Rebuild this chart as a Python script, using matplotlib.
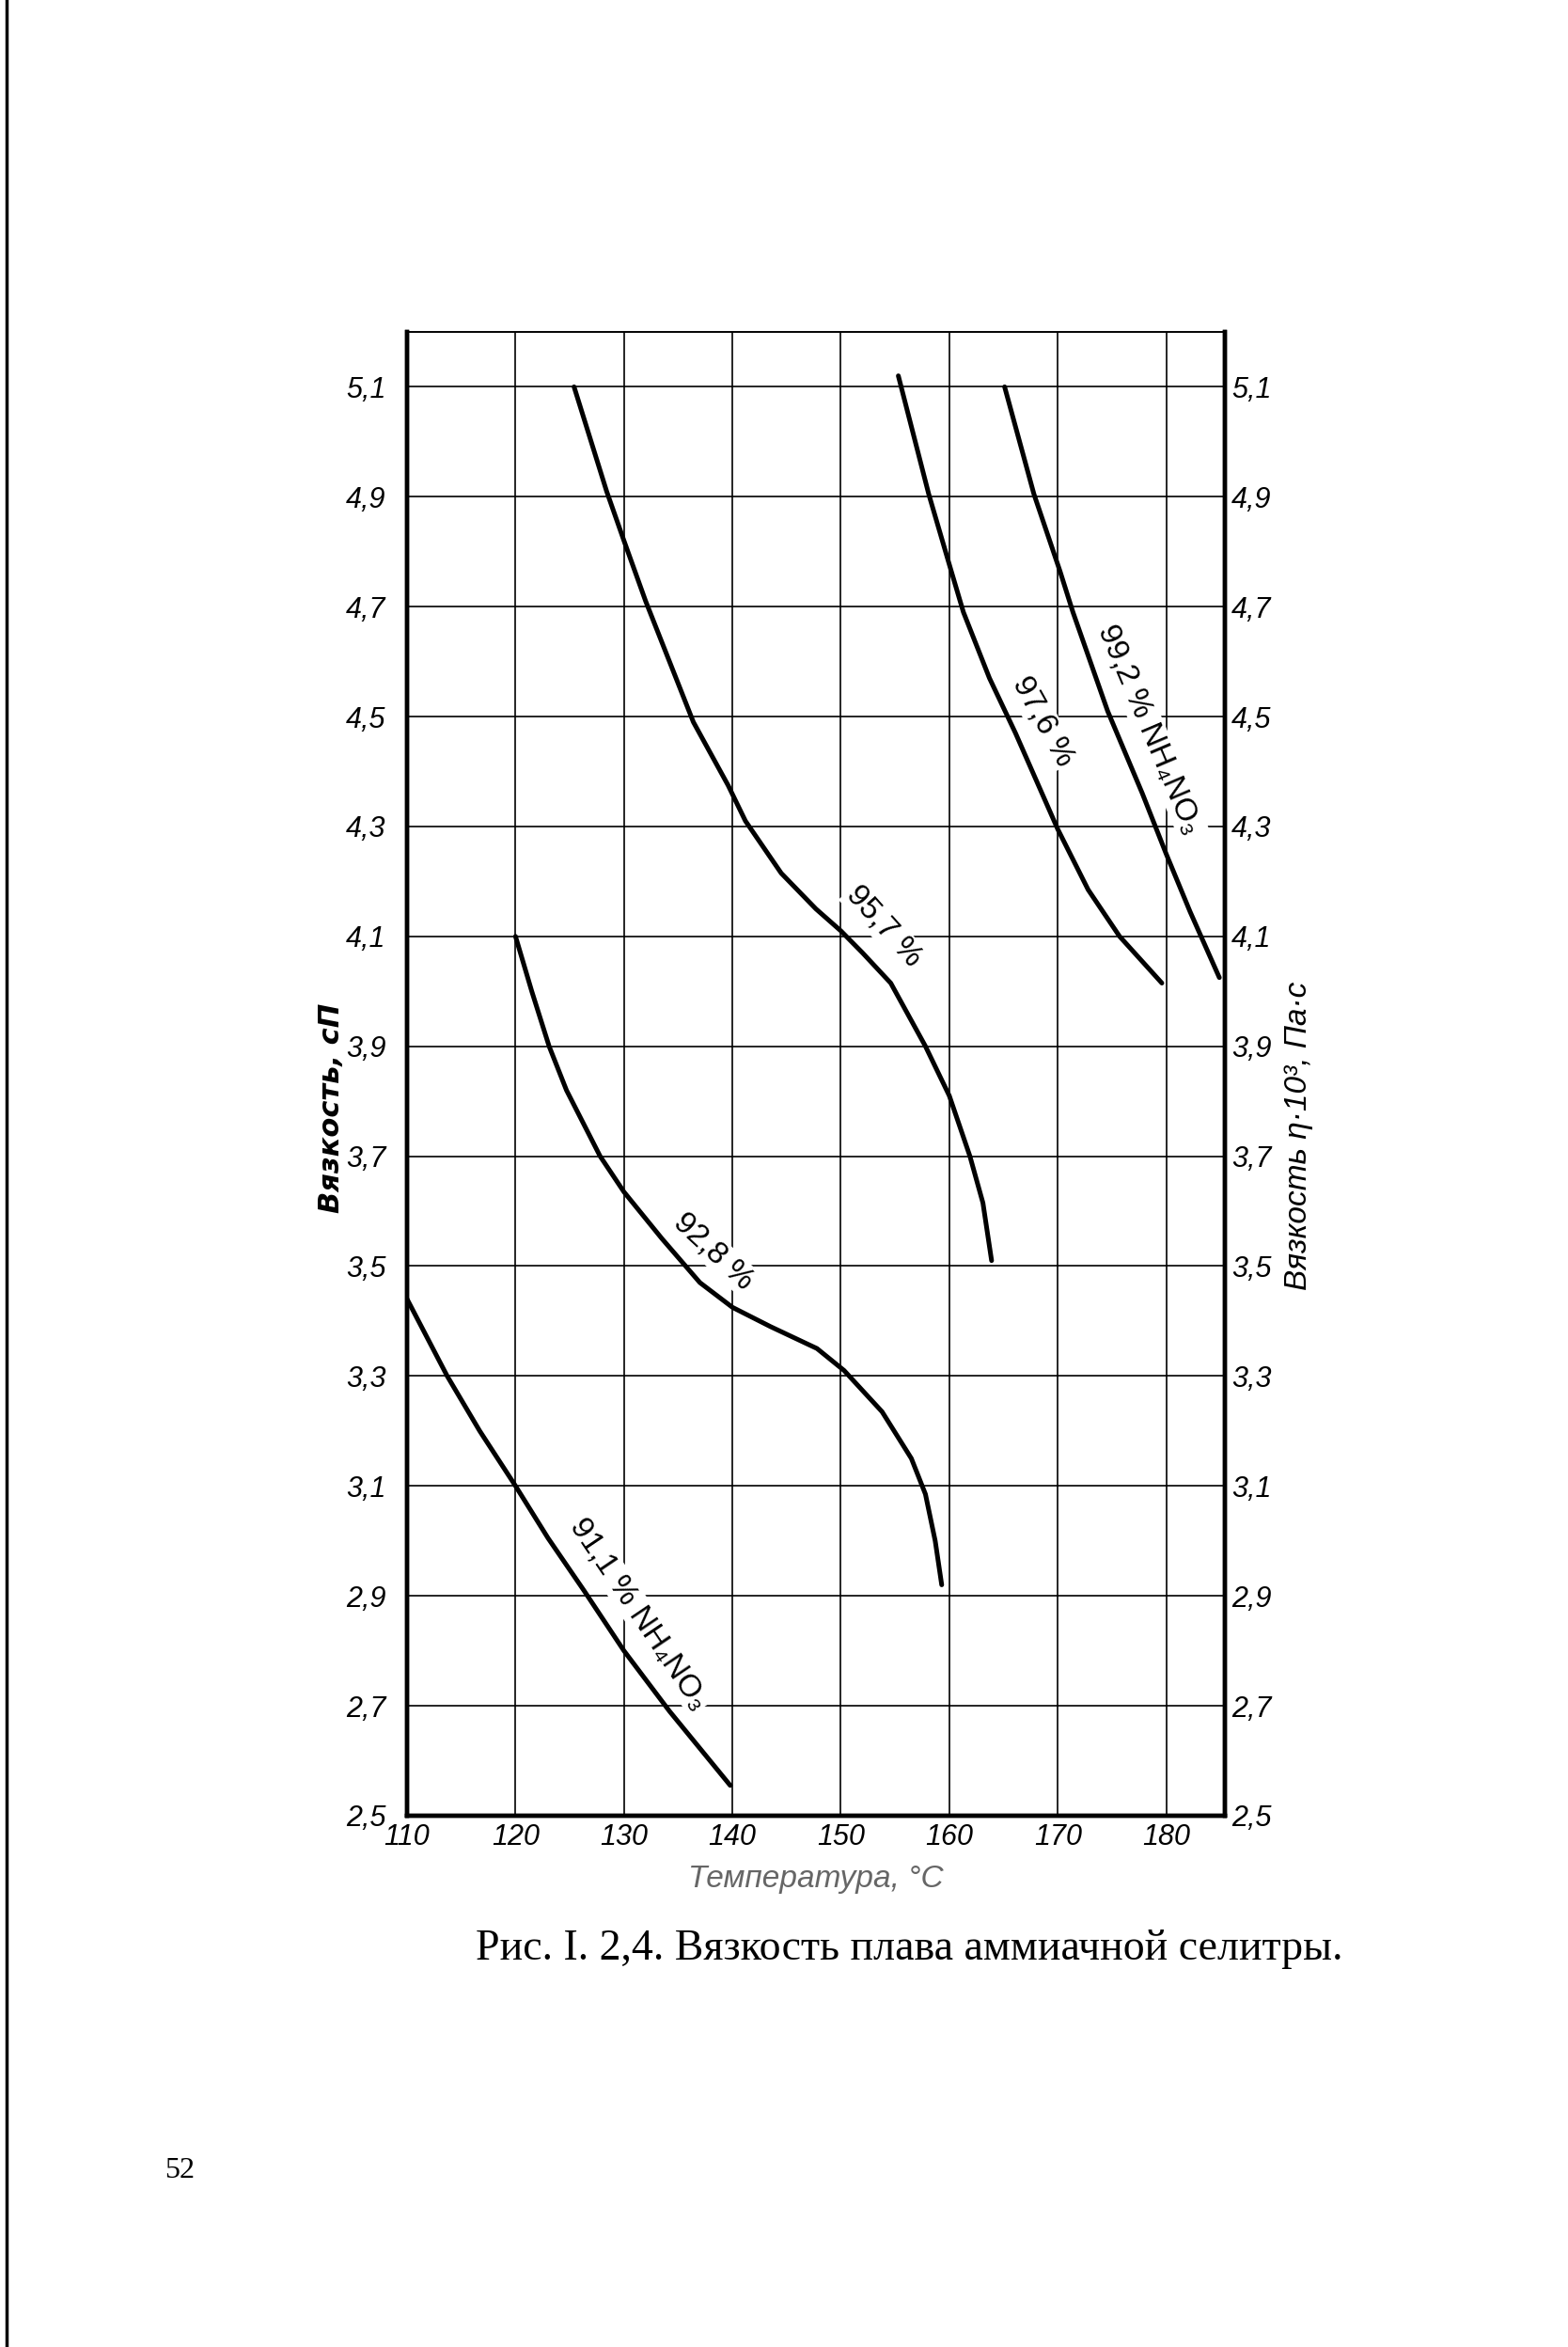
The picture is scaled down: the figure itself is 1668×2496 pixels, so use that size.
import math
import matplotlib
matplotlib.use("Agg")
import matplotlib.pyplot as plt
from matplotlib.lines import Line2D
from matplotlib.transforms import ScaledTranslation

# viscosity of ammonium nitrate melt
t_911 = [110, 113.7, 116.7, 120, 123, 126.3, 130, 134.2, 139.8]
v_911 = [3.44, 3.30, 3.20, 3.10, 3.005, 2.91, 2.80, 2.69, 2.555]

t_928 = [120, 121.5, 123.1, 124.7, 127.8, 130, 133.5, 137, 140, 143.5,
         147.8, 150.3, 153.8, 156.5, 157.8, 158.7, 159.3]
v_928 = [4.10, 4.00, 3.90, 3.82, 3.70, 3.635, 3.55, 3.47, 3.425, 3.39,
         3.35, 3.31, 3.235, 3.15, 3.085, 3.00, 2.92]

t_957 = [125.4, 128.4, 130, 132, 134, 136.4, 139.6, 141.2, 144.5, 147.7,
         150, 152, 154.6, 157.8, 160, 161.9, 163.1, 163.9]
v_957 = [5.10, 4.91, 4.82, 4.71, 4.61, 4.49, 4.375, 4.31, 4.215, 4.15,
         4.11, 4.07, 4.015, 3.90, 3.81, 3.70, 3.615, 3.51]

t_976 = [155.3, 158.1, 160.1, 161.3, 163.7, 166.1, 170, 172.8, 175.7, 179.6]
v_976 = [5.12, 4.905, 4.77, 4.69, 4.57, 4.47, 4.295, 4.185, 4.10, 4.015]

t_992 = [165.1, 167.8, 170.2, 171.4, 174.6, 177.8, 180, 182.2, 184.9]
v_992 = [5.10, 4.905, 4.765, 4.69, 4.51, 4.36, 4.25, 4.145, 4.025]

curve_labels = ["91,1 % NH₄NO₃", "92,8 %", "95,7 %", "97,6 %", "99,2 % NH₄NO₃"]

x_ticks = [110, 120, 130, 140, 150, 160, 170, 180]
y_ticks = [2.5, 2.7, 2.9, 3.1, 3.3, 3.5, 3.7, 3.9, 4.1, 4.3, 4.5, 4.7, 4.9, 5.1]

sans = ["Liberation Sans", "DejaVu Sans"]

fig = plt.figure(figsize=(16.68, 24.96), dpi=100)
ax = fig.add_axes([0.2596, 0.2264, 0.5215, 0.6322])

curves = [(t_911, v_911), (t_928, v_928), (t_957, v_957), (t_976, v_976), (t_992, v_992)]
for t, v in curves:
    ax.plot(t, v, color="black", lw=3.6, solid_capstyle="round", zorder=3)

ax.set_xlim(110, 185.4)
ax.set_ylim(2.5, 5.2)
ax.set_xticks(x_ticks)
ax.set_yticks(y_ticks)
ax.grid(True, color="black", lw=1.2)
ax.tick_params(length=0)
ax.set_xticklabels([str(x) for x in x_ticks], fontstyle="italic", fontsize=22, family=sans)
ax.set_yticklabels([f"{y:.1f}".replace(".", ",") for y in y_ticks],
                   fontstyle="italic", fontsize=22, family=sans)
ax.tick_params(axis="y", pad=16)
ax.tick_params(axis="x", pad=6)

ax2 = ax.twinx()
ax2.set_ylim(ax.get_ylim())
ax2.set_yticks(y_ticks)
ax2.set_yticklabels([f"{y:.1f}".replace(".", ",") for y in y_ticks],
                    fontstyle="italic", fontsize=22, family=sans)
ax2.tick_params(length=0, pad=5)

for a in (ax, ax2):
    for side in ("left", "right", "bottom"):
        a.spines[side].set_linewidth(3.2)
    a.spines["top"].set_linewidth(1.2)

# curve labels: point on the curve, text angle, shift away from the curve (pt)
label_pos = [(129.0, 2.835, -56, 24), (136.3, 3.485, -43, 24), (151.8, 4.08, -48, 24),
             (166.2, 4.465, -61, 23), (175.8, 4.455, -67, 24)]
for txt, (x, y, rot, d) in zip(curve_labels, label_pos):
    a_rad = math.radians(rot)
    shift = ScaledTranslation(-d * math.sin(a_rad) / 72, d * math.cos(a_rad) / 72,
                              fig.dpi_scale_trans)
    ax.text(x, y, txt, transform=ax.transData + shift, rotation=rot,
            rotation_mode="anchor", ha="center", va="center", fontsize=24,
            family=sans, zorder=2.5,
            bbox=dict(facecolor="white", edgecolor="none", pad=1))

fig.text(0.2115, 0.528, "Вязкость, сП", rotation=90, ha="center", va="center",
         fontsize=22, fontweight="bold", fontstyle="italic")
fig.text(0.8285, 0.516, "Вязкость η·10³, Па·с", rotation=90, ha="center", va="center",
         fontsize=24, fontstyle="italic", family=sans)
fig.text(0.52, 0.1995, "Температура, °С", ha="center", va="center",
         fontsize=24, fontstyle="italic", color="#666666", family=sans)

fig.text(0.3034, 0.1695, "Рис. I. 2,4. Вязкость плава аммиачной селитры.",
         ha="left", va="center", fontsize=33, family="Liberation Serif")
fig.text(0.1145, 0.0753, "52", ha="center", va="center", fontsize=23,
         family="Liberation Serif")

# scanned page edge on the left
fig.add_artist(Line2D([0.004, 0.004], [0, 1], color="black", lw=2.5))

fig.savefig("out.png", dpi=100, facecolor="white")
